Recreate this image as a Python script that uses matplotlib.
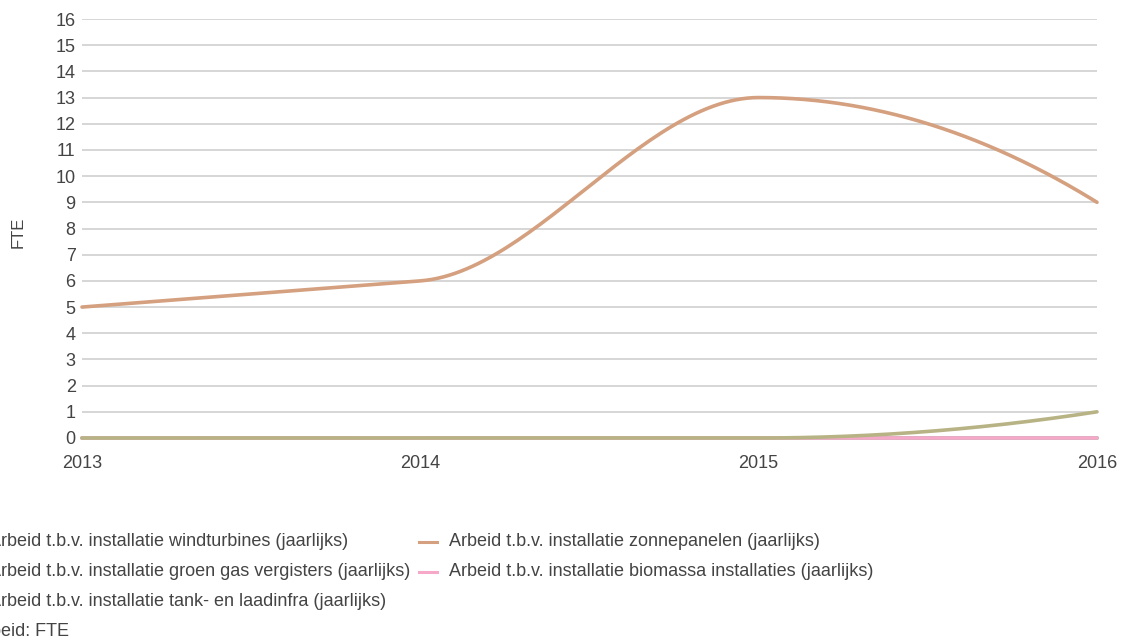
import numpy as np
import matplotlib.pyplot as plt
from matplotlib.lines import Line2D

plt.rcParams['font.family'] = ['Liberation Sans', 'DejaVu Sans']

# jaarlijkse arbeid (FTE)
years = [2013, 2014, 2015, 2016]
windturbines = [0, 0, 0, 0]
zonnepanelen = [5, 6, 13, 9]
groen_gas = [0, 0, 0, 0]
biomassa = [0, 0, 0, 0]
tank_laadinfra = [0, 0, 0, 1]

labels = ["Arbeid t.b.v. installatie windturbines (jaarlijks)",
          "Arbeid t.b.v. installatie zonnepanelen (jaarlijks)",
          "Arbeid t.b.v. installatie groen gas vergisters (jaarlijks)",
          "Arbeid t.b.v. installatie biomassa installaties (jaarlijks)",
          "Arbeid t.b.v. installatie tank- en laadinfra (jaarlijks)"]
colors = ['#8fb3cf', '#d4a07f', '#9fc39a', '#f5a8c8', '#b8b385']
series = [windturbines, zonnepanelen, groen_gas, biomassa, tank_laadinfra]

W, H = 1124, 642
TXT = '#444444'
FS = 13


def smooth(x, y, n=60):
    # cubic hermite curve, no overshoot at interior points
    x = np.asarray(x, float); y = np.asarray(y, float)
    h = np.diff(x); s = np.diff(y) / h
    m = np.zeros(len(x))
    for i in range(1, len(x) - 1):
        if s[i-1] * s[i] > 0:
            m[i] = np.sign(s[i]) * min(abs(s[i-1]), abs(s[i]))
    m[0] = 2 * s[0] - m[1]
    m[-1] = 2 * s[-1] - m[-2]
    xs, ys = [], []
    t = np.linspace(0, 1, n)
    for i in range(len(x) - 1):
        h00 = 2*t**3 - 3*t**2 + 1
        h10 = t**3 - 2*t**2 + t
        h01 = -2*t**3 + 3*t**2
        h11 = t**3 - t**2
        xs.append(x[i] + t * h[i])
        ys.append(h00*y[i] + h10*h[i]*m[i] + h01*y[i+1] + h11*h[i]*m[i+1])
    return np.concatenate(xs), np.concatenate(ys)


fig = plt.figure(figsize=(W/100, H/100), dpi=100)
ax = fig.add_axes([82/W, (H-438)/H, (1097-82)/W, (438-19)/H])

for vals, c in zip(series, colors):
    cx, cy = smooth(years, vals)
    ax.plot(cx, cy, color=c, lw=2.6, solid_capstyle='round', clip_on=False, zorder=3)

ax.set_xlim(2013, 2016)
ax.set_ylim(0, 16)
ax.set_yticks(range(0, 17))
ax.set_xticks(years)
ax.set_xticklabels([str(y) for y in years])
for s in ax.spines.values():
    s.set_visible(False)
ax.grid(axis='y', color='#d0d0d0', lw=1.2)
ax.set_axisbelow(True)
ax.tick_params(length=0, labelsize=FS, colors=TXT)
ax.tick_params(axis='y', pad=4.5)
ax.tick_params(axis='x', pad=12)
fig.text(18/W, 1-232/H, 'FTE', fontsize=12, color=TXT, rotation=90,
         ha='center', va='center')

# legenda onder de grafiek
rows = [542, 572, 602]
spots = [(-41, rows[0]), (419, rows[0]), (-41, rows[1]), (419, rows[1]), (-41, rows[2])]
for (lx, ly), lab, c in zip(spots, labels, colors):
    fig.add_artist(Line2D([lx/W, (lx+18)/W], [1-ly/H, 1-ly/H], color=c, lw=2.2))
    fig.text((lx+30)/W, 1-ly/H, lab, fontsize=FS, color=TXT, va='center')
fig.text(-27/W, 1-632/H, 'Arbeid: FTE', fontsize=FS, color=TXT, va='center')

fig.savefig('out.png', dpi=100)
